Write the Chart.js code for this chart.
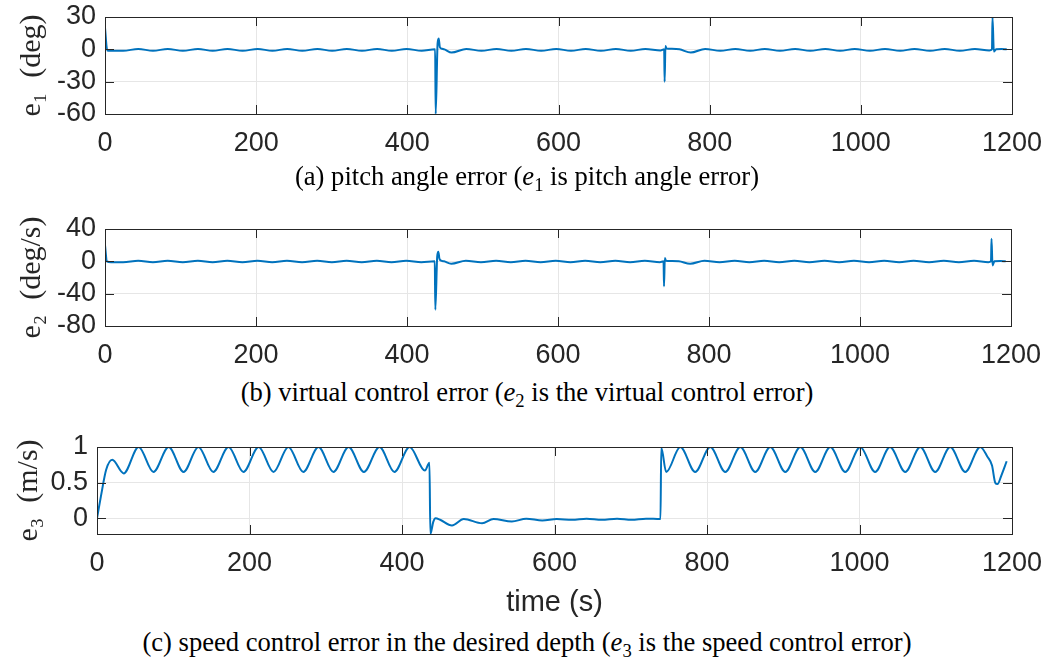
<!DOCTYPE html>
<html><head><meta charset="utf-8">
<script src="https://cdn.jsdelivr.net/npm/chart.js@4.4.1/dist/chart.umd.min.js"></script>
<style>
html,body{margin:0;padding:0;background:#fff;}
#wrap{position:relative;width:1047px;height:663px;overflow:hidden;background:#fff;}
.pane{position:absolute;left:0;width:1047px;}
.cap{position:absolute;left:0;width:1054px;text-align:center;font-family:"Liberation Serif","Times New Roman",serif;font-size:26.6px;line-height:30px;color:#000;white-space:nowrap;}
.cap i{font-family:"Liberation Serif",serif;}
.cap sub{font-size:0.7em;vertical-align:-0.3em;line-height:0;}
</style></head><body>
<div id="wrap">
  <div class="pane" style="top:0;height:165px"><canvas id="cA"></canvas></div>
  <div class="pane" style="top:210px;height:160px"><canvas id="cB"></canvas></div>
  <div class="pane" style="top:420px;height:205px"><canvas id="cC"></canvas></div>
  <div class="cap" style="top:161px">(a) pitch angle error (<i>e</i><sub>1</sub> is pitch angle error)</div>
  <div class="cap" style="top:377px">(b) virtual control error (<i>e</i><sub>2</sub> is the virtual control error)</div>
  <div class="cap" style="top:627px">(c) speed control error in the desired depth (<i>e</i><sub>3</sub> is the speed control error)</div>
</div>
<script>
// ---------- data ----------
const xTicks = [0, 200, 400, 600, 800, 1000, 1200];
const yTicksA = [-60, -30, 0, 30];
const yTicksB = [-80, -40, 0, 40];
const yTicksC = [0, 0.5, 1];

// (a) pitch angle error e1 (deg)
const timeA = [0, 3, 8, 24, 44, 63.5, 83, 103, 123, 142.5, 162, 182, 202, 221.5, 241, 261, 281, 300.5, 320, 340, 360, 379.5, 399, 419,
  436.8, 437.5, 440, 441.5, 443, 446, 449, 458.5, 478, 498, 518, 537.5, 557, 577, 597, 616.5, 636, 656, 676, 695.5, 715, 735,
  739.8, 740.4, 741.5, 743, 750, 760, 775, 794, 814, 834, 853.5, 873, 893, 913, 933, 953, 972.5, 992, 1012, 1032, 1052, 1071, 1091.5, 1111, 1131, 1151,
  1170, 1173.5, 1174.2, 1176, 1179, 1186, 1193];
const e1 = [20, -1, -1.3, -1.3, 0.3, -1.3, 0.3, -1.3, 0.3, -1.3, 0.3, -1.3, 0.3, -1.3, 0.3, -1.3, 0.3, -1.3, 0.3, -1.3, 0.3, -1.3, 0.3, -1.3,
  0, -60, 5, 10, 2, 0.5, 0, -3, 0.3, -1.3, 0.3, -1.3, 0.3, -1.3, 0.3, -1.3, 0.3, -1.3, 0.3, -1.3, 0.3, -1,
  0, -30, 3, 0.8, 0.5, 0, -3, 0.3, -1.3, 0.3, -1.3, 0.3, -1.3, 0.3, -1.3, 0.3, -1.3, 0.3, -1.3, 0.3, -1.3, 0.3, -1.3, 0.3, -1.3, 0.3,
  -1, 0, 30, -2, 0, 0.2, 0];

// (b) virtual control error e2 (deg/s)
const timeB = [0, 2.5, 8, 24, 44, 63.5, 83, 103, 123, 142.5, 162, 182, 202, 221.5, 241, 261, 281, 300.5, 320, 340, 360, 379.5, 399, 419,
  436.8, 437.5, 440, 441.5, 443, 446, 449, 458.5, 478, 498, 518, 537.5, 557, 577, 597, 616.5, 636, 656, 676, 695.5, 715, 735,
  739.8, 740.4, 741.5, 743, 750, 760, 775, 794, 814, 834, 853.5, 873, 893, 913, 933, 953, 972.5, 992, 1012, 1032, 1052, 1071, 1091.5, 1111, 1131, 1151,
  1170, 1173.5, 1174.2, 1175.5, 1178, 1186, 1193];
const e2 = [20, 0, -1.2, -1.2, 0.8, -1.2, 0.8, -1.2, 0.8, -1.2, 0.8, -1.2, 0.8, -1.2, 0.8, -1.2, 0.8, -1.2, 0.8, -1.2, 0.8, -1.2, 0.8, -1.2,
  0, -60, 6, 12, 3, 0.5, 0, -3, 0.8, -1.2, 0.8, -1.2, 0.8, -1.2, 0.8, -1.2, 0.8, -1.2, 0.8, -1.2, 0.8, -1,
  0, -31, 4, 0.8, 0.3, 0, -3, 0.8, -1.2, 0.8, -1.2, 0.8, -1.2, 0.8, -1.2, 0.8, -1.2, 0.8, -1.2, 0.8, -1.2, 0.8, -1.2, 0.8, -1.2, 0.8,
  -1, 0, 28, -5, 0, 0.5, 0];

// (c) speed control error e3 (m/s)
const timeC = [0, 5, 12, 20, 35, 54.6, 74, 94, 113.5, 133, 152.5, 172.5, 192, 212, 231.5, 251, 270.5, 290.5, 310, 330, 350, 370.5, 390, 410,
  430, 436, 437.2, 441, 444, 450, 465.5, 481, 505, 520, 544, 563, 584, 603, 623, 642, 662, 682, 701, 720, 739,
  740, 746.5, 765, 784.5, 804.3, 824, 843.7, 863.3, 883, 902.7, 922.4, 942, 961.7, 981.3, 1001, 1020.5, 1040, 1060, 1079.7, 1099.3, 1119, 1138.7, 1158.4,
  1168, 1173.8, 1178, 1181, 1186, 1193];
const e3 = [0, 0.3, 0.68, 0.82, 0.63, 1.0, 0.65, 1.0, 0.65, 1.0, 0.65, 1.0, 0.65, 1.0, 0.65, 1.0, 0.65, 1.0, 0.65, 1.0, 0.65, 1.0, 0.65, 1.0,
  0.67, 0.78, -0.22, -0.05, 0, -0.02, -0.1, -0.01, -0.07, -0.01, -0.045, -0.005, -0.03, -0.01, -0.02, -0.005, -0.02, -0.005, -0.02, -0.005, -0.01,
  0.99, 0.65, 1.0, 0.65, 1.0, 0.65, 1.0, 0.65, 1.0, 0.65, 1.0, 0.65, 1.0, 0.65, 1.0, 0.65, 1.0, 0.65, 1.0, 0.65, 1.0, 0.65, 1.0,
  0.86, 0.74, 0.5, 0.48, 0.6, 0.8];

// ---------- helpers ----------
const INK = '#262626';
const SANS = '"Liberation Sans", Arial, Helvetica, sans-serif';
const SERIF = '"Liberation Serif", "Times New Roman", serif';

const boxTicks = {
  id: 'boxTicks',
  afterDraw(chart) {
    const {ctx, chartArea: a, scales} = chart;
    const x = scales.x, y = scales.y, L = 9;
    ctx.save();
    ctx.strokeStyle = INK;
    ctx.lineWidth = 1;
    ctx.beginPath();
    x.ticks.forEach(t => {
      const p = Math.round(x.getPixelForValue(t.value)) + 0.5;
      ctx.moveTo(p, a.bottom); ctx.lineTo(p, a.bottom - L);
      ctx.moveTo(p, a.top); ctx.lineTo(p, a.top + L);
    });
    y.ticks.forEach(t => {
      const p = Math.round(y.getPixelForValue(t.value)) + 0.5;
      ctx.moveTo(a.left, p); ctx.lineTo(a.left + L, p);
      ctx.moveTo(a.right, p); ctx.lineTo(a.right - L, p);
    });
    ctx.stroke();
    ctx.strokeRect(Math.round(a.left) + 0.5, Math.round(a.top) + 0.5,
                   Math.round(a.right - a.left), Math.round(a.bottom - a.top));
    ctx.restore();
  }
};

const fmt = v => String(v);

function makeChart(id, times, vals, cfg) {
  const pts = times.map((t, i) => ({x: t, y: vals[i]}));
  return new Chart(document.getElementById(id), {
    type: 'line',
    data: {datasets: [{data: pts, borderColor: '#0072BD', borderWidth: 2, pointRadius: 0,
      cubicInterpolationMode: 'monotone', fill: false}]},
    options: {
      responsive: true, maintainAspectRatio: false, animation: false,
      layout: {padding: {left: 0, right: cfg.padRight, top: cfg.padTop, bottom: 0}},
      plugins: {legend: {display: false}, tooltip: {enabled: false}},
      scales: {
        x: {
          type: 'linear', min: 0, max: 1200,
          afterBuildTicks: s => { s.ticks = xTicks.map(v => ({value: v})); },
          afterFit: s => { s.height = cfg.xHeight; s.paddingLeft = 0; s.paddingRight = 0; },
          grid: {color: '#e6e6e6', lineWidth: 1, drawTicks: false},
          border: {display: false},
          ticks: {autoSkip: false, maxRotation: 0, padding: 13, color: INK, font: {family: SANS, size: 27}, callback: fmt},
          title: cfg.xTitle ? {display: true, text: cfg.xTitle, color: INK, font: {family: SANS, size: 29}, padding: {top: 0, bottom: 5}} : {display: false}
        },
        y: {
          type: 'linear', min: cfg.yMin, max: cfg.yMax,
          afterBuildTicks: s => { s.ticks = cfg.yTicks.map(v => ({value: v})); },
          afterFit: s => { s.width = cfg.yWidth; s.paddingTop = 0; s.paddingBottom = 0; },
          grid: {color: '#e6e6e6', lineWidth: 1, drawTicks: false},
          border: {display: false},
          ticks: {autoSkip: false, padding: 9, color: INK, font: {family: SANS, size: 27, lineHeight: 1}, callback: fmt},
          title: {display: true, text: cfg.yTitle, color: INK, font: {family: SERIF, size: 30}, padding: {top: cfg.yTitlePad, bottom: 0}}
        }
      }
    },
    plugins: [boxTicks]
  });
}

makeChart('cA', timeA, e1, {padRight: 35, padTop: 17, xHeight: 51, yWidth: 105, yMin: -60, yMax: 30, yTicks: yTicksA,
  yTitle: 'e\u2081  (deg)', yTitlePad: 14});
makeChart('cB', timeB, e2, {padRight: 36, padTop: 19, xHeight: 44, yWidth: 105, yMin: -80, yMax: 40, yTicks: yTicksB,
  yTitle: 'e\u2082  (deg/s)', yTitlePad: 14});
makeChart('cC', timeC, e3, {padRight: 35, padTop: 27, xHeight: 91, yWidth: 97, yMin: -0.22, yMax: 1, yTicks: yTicksC,
  yTitle: 'e\u2083  (m/s)', yTitlePad: 11, xTitle: 'time (s)'});
</script>
</body></html>
